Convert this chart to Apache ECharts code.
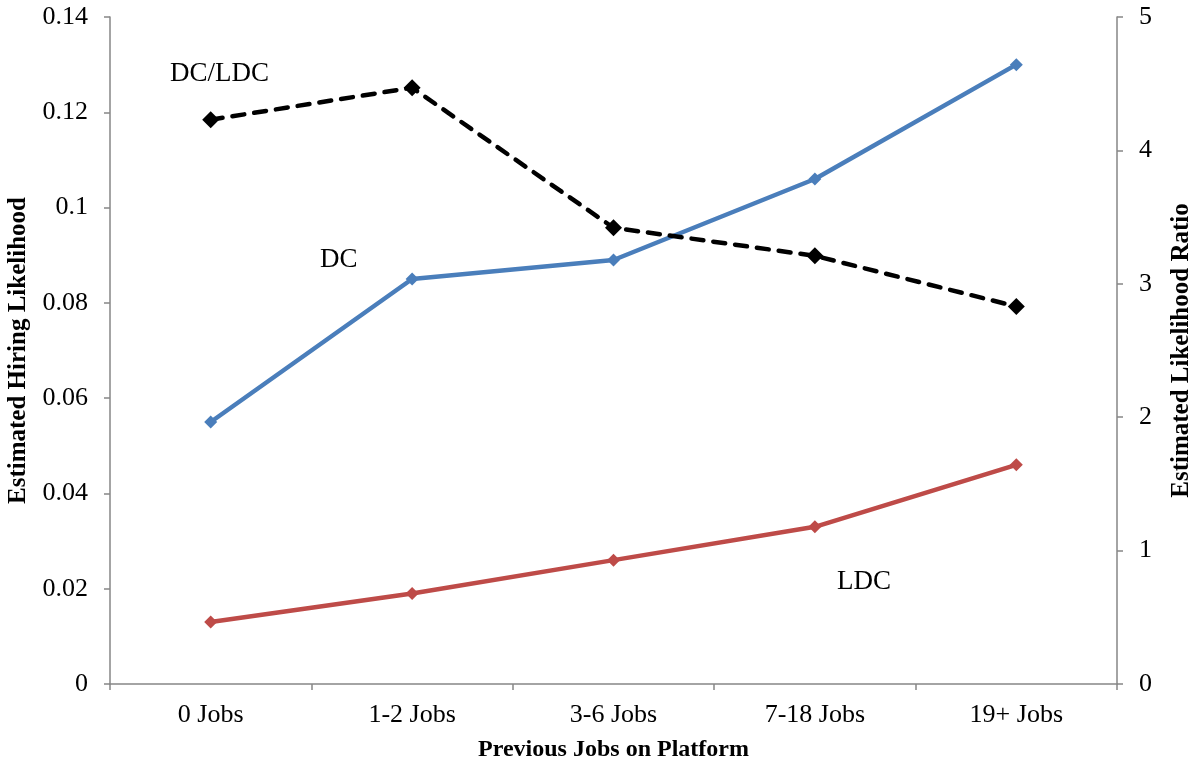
<!DOCTYPE html>
<html>
<head>
<meta charset="utf-8">
<script src="https://cdn.jsdelivr.net/npm/echarts@6/dist/echarts.min.js"></script>
<style>
  html, body { margin: 0; padding: 0; background: #fff; }
  #chart { width: 1197px; height: 768px; }
</style>
</head>
<body>
<div id="chart"></div>
<script>
// Categories: number of previous jobs on the platform
const categories = ['0 Jobs', '1-2 Jobs', '3-6 Jobs', '7-18 Jobs', '19+ Jobs'];
// Estimated hiring likelihood, left axis
const dcValues = [0.055, 0.085, 0.089, 0.106, 0.130];
const ldcValues = [0.013, 0.019, 0.026, 0.033, 0.046];
// Estimated likelihood ratio DC/LDC, right axis
const ratioValues = [4.23, 4.47, 3.42, 3.21, 2.83];

const font = '"Liberation Serif", "Times New Roman", serif';
const axisGrey = '#868686';

const chart = echarts.init(document.getElementById('chart'));

const yAxisCommon = {
  type: 'value',
  nameLocation: 'middle',
  nameRotate: 90,
  nameTextStyle: { fontFamily: font, fontSize: 25, fontWeight: 'bold', color: '#000' },
  axisLine: { show: true, lineStyle: { color: axisGrey, width: 1.5 } },
  axisTick: { show: true, length: 6, lineStyle: { color: axisGrey, width: 1.5 } },
  axisLabel: { fontFamily: font, fontSize: 26, color: '#000' },
  splitLine: { show: false }
};

chart.setOption({
  animation: false,
  backgroundColor: '#fff',
  grid: { left: 110, right: 80, top: 17, bottom: 84, containLabel: false, outerBoundsMode: 'none' },
  xAxis: {
    type: 'category',
    data: categories,
    boundaryGap: true,
    name: 'Previous Jobs on Platform',
    nameLocation: 'middle',
    nameGap: 54,
    nameTextStyle: { fontFamily: font, fontSize: 24, fontWeight: 'bold', color: '#000' },
    axisLine: { lineStyle: { color: axisGrey, width: 1.5 } },
    axisTick: { show: true, length: 6, alignWithLabel: false, lineStyle: { color: axisGrey, width: 1.5 } },
    axisLabel: { fontFamily: font, fontSize: 26, color: '#000', margin: 18 }
  },
  yAxis: [
    Object.assign({}, yAxisCommon, {
      name: 'Estimated Hiring Likelihood',
      nameGap: 79,
      position: 'left',
      min: 0, max: 0.14, interval: 0.02,
      axisLabel: Object.assign({}, yAxisCommon.axisLabel, { margin: 22 })
    }),
    Object.assign({}, yAxisCommon, {
      name: 'Estimated Likelihood Ratio',
      nameGap: 52,
      position: 'right',
      min: 0, max: 5, interval: 1,
      axisLabel: Object.assign({}, yAxisCommon.axisLabel, { margin: 22 })
    })
  ],
  series: [
    {
      name: 'DC',
      type: 'line',
      yAxisIndex: 0,
      data: dcValues,
      symbol: 'diamond',
      symbolSize: 13,
      lineStyle: { color: '#4A7EBB', width: 4.5 },
      itemStyle: { color: '#4A7EBB' }
    },
    {
      name: 'LDC',
      type: 'line',
      yAxisIndex: 0,
      data: ldcValues,
      symbol: 'diamond',
      symbolSize: 13,
      lineStyle: { color: '#BE4B48', width: 4.5 },
      itemStyle: { color: '#BE4B48' }
    },
    {
      name: 'DC/LDC',
      type: 'line',
      yAxisIndex: 1,
      data: ratioValues,
      symbol: 'diamond',
      symbolSize: 17,
      lineStyle: { color: '#000', width: 4.5, type: [12, 10], cap: 'round' },
      itemStyle: { color: '#000' }
    }
  ],
  graphic: [
    { type: 'text', left: 170, top: 60, style: { text: 'DC/LDC', font: '27px ' + font, fill: '#000' } },
    { type: 'text', left: 320, top: 246, style: { text: 'DC', font: '27px ' + font, fill: '#000' } },
    { type: 'text', left: 837, top: 568, style: { text: 'LDC', font: '27px ' + font, fill: '#000' } }
  ]
});
</script>
</body>
</html>
